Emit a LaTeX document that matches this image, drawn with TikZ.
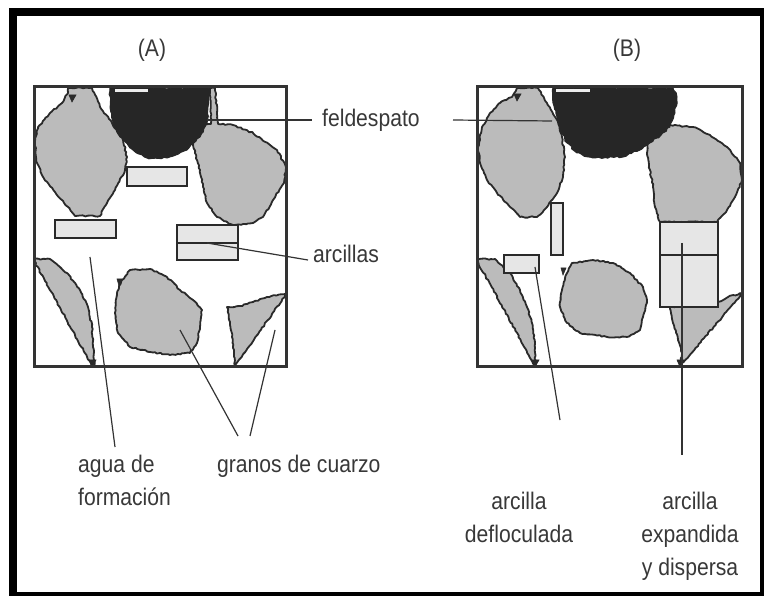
\documentclass[tikz,border=0pt]{standalone}
\usepackage{fontspec}
\setmainfont{Liberation Sans}[FakeStretch=0.88]
\usetikzlibrary{decorations.pathmorphing,calc}

\definecolor{graingray}{HTML}{BBBBBB}
\definecolor{feldgray}{HTML}{262626}
\definecolor{edgegray}{HTML}{2A2A2A}
\definecolor{claygray}{HTML}{E6E6E6}
\definecolor{inkgray}{HTML}{383838}
\definecolor{linegray}{HTML}{333333}

\tikzset{
  grain/.style={fill=graingray, draw=edgegray, line width=1.8pt, line join=round,
    decorate, decoration={random steps, segment length=2.5pt, amplitude=0.7pt}},
  feldspar/.style={fill=feldgray, draw=feldgray, line width=1pt, line join=round,
    decorate, decoration={random steps, segment length=3pt, amplitude=1pt}},
  clay/.style={fill=claygray, draw=edgegray, line width=1.3pt},
  cellbox/.style={draw=linegray, line width=3pt},
  leader/.style={draw=linegray, line width=1.2pt},
  notch/.style={fill=edgegray, draw=edgegray, line width=0.6pt},
  lbl/.style={text=inkgray, font=\fontsize{24}{33}\selectfont, inner sep=0pt},
  paneltitle/.style={text=inkgray, font=\fontsize{24}{26}\selectfont, inner sep=0pt},
}

\begin{document}
\pgfmathsetseed{7}
\begin{tikzpicture}[x=1pt, y=-1pt]
  \useasboundingbox (0,0) rectangle (764,596);

  % outer frame
  \fill[black] (9,8) rectangle (764,596);
  \fill[white] (17,16) rectangle (760,592);

  % ---------- panel A ----------
  \begin{scope}
    \clip (34,87) rectangle (286,367);
    % quartz grains
    \path[grain] (68,88) -- (92,88) -- (100,107) -- (112,123) -- (123,140) -- (127,157)
      -- (125,170) -- (115,190) -- (107,203) -- (100,216) -- (75,216) -- (68,207)
      -- (55,192) -- (43,177) -- (37,163) -- (35,143) -- (38,127) -- (50,113)
      -- (62,103) -- (68,93) -- cycle;
    \path[grain] (210,88) -- (215,88) -- (218,124) -- (233,125) -- (253,133) -- (277,150)
      -- (286,167) -- (284,183) -- (273,200) -- (263,217) -- (253,223) -- (233,225)
      -- (217,217) -- (207,203) -- (203,187) -- (200,170) -- (195,153) -- (192,140)
      -- (200,126) -- (211,124) -- cycle;
    \path[grain] (33,259) -- (50,259) -- (67,273) -- (80,290) -- (88,307) -- (92,327)
      -- (93,347) -- (95,366) -- (92,366) -- cycle;
    \path[grain] (130,270) -- (150,269) -- (167,277) -- (180,290) -- (193,300) -- (202,310)
      -- (200,327) -- (197,343) -- (190,353) -- (170,355) -- (150,352) -- (130,347)
      -- (118,333) -- (115,313) -- (117,293) -- (122,280) -- cycle;
    \path[grain] (227,307) -- (240,306) -- (253,302) -- (267,297) -- (287,293)
      -- (235,366) -- (234,350) -- (232,337) -- (230,322) -- cycle;
    % feldspar
    \path[feldspar] (110,88) -- (210,88) -- (208,107) -- (207,123) -- (200,137) -- (187,150)
      -- (167,158) -- (147,158) -- (130,148) -- (120,137) -- (113,123) -- (110,107) -- cycle;
    \fill[white!85!gray] (115,89) rectangle (148,92);
    % clays
    \path[clay] (127,167) rectangle (187,186);
    \path[clay] (55,220) rectangle (116,238);
    \path[clay] (177,225) rectangle (238,243);
    \path[clay] (177,243) rectangle (238,260);
    % small marks on grain edges
    \path[notch] (69,95) -- (76,95) -- (72,102) -- cycle;
    \path[notch] (117,279) -- (122,279) -- (119,286) -- cycle;
    \path[notch] (89,360) -- (96,360) -- (92,367) -- cycle;
  \end{scope}
  \path[cellbox] (34,87) rectangle (286,367);

  % ---------- panel B ----------
  \begin{scope}
    \clip (477,87) rectangle (742,367);
    % quartz grains
    \path[grain] (517,88) -- (538,88) -- (547,103) -- (557,120) -- (562,137) -- (565,157)
      -- (563,177) -- (557,193) -- (547,207) -- (537,217) -- (520,217) -- (510,207)
      -- (497,193) -- (487,180) -- (480,163) -- (478,147) -- (482,127) -- (490,113)
      -- (500,103) -- (512,97) -- cycle;
    \path[grain] (650,127) -- (670,125) -- (693,127) -- (710,135) -- (727,147) -- (740,163)
      -- (742,180) -- (735,197) -- (727,210) -- (717,222) -- (660,222) -- (655,207)
      -- (653,187) -- (650,170) -- (647,153) -- (647,140) -- cycle;
    \path[grain] (476,259) -- (495,259) -- (510,273) -- (520,290) -- (527,307) -- (532,323)
      -- (535,343) -- (535,366) -- cycle;
    \path[grain] (572,263) -- (593,260) -- (613,263) -- (630,273) -- (643,287) -- (647,300)
      -- (643,317) -- (640,330) -- (627,337) -- (607,337) -- (580,333) -- (567,323)
      -- (560,307) -- (562,290) -- (567,273) -- cycle;
    \path[grain] (670,307) -- (718,302) -- (728,297) -- (743,293) -- (680,366)
      -- (682,353) -- (678,340) -- (673,323) -- cycle;
    % feldspar
    \path[feldspar] (553,88) -- (673,88) -- (677,97) -- (675,113) -- (670,127) -- (657,138)
      -- (640,150) -- (623,157) -- (593,158) -- (577,153) -- (567,143) -- (560,130)
      -- (557,117) -- (553,103) -- cycle;
    \fill[white!85!gray] (556,89) rectangle (590,92);
    % clays
    \path[clay] (551,203) rectangle (563,255);
    \path[clay] (504,255) rectangle (539,273);
    \path[clay] (660,222) rectangle (718,255);
    \path[clay] (660,255) rectangle (718,307);
    % small marks on grain edges
    \path[notch] (514,94) -- (521,94) -- (517,101) -- cycle;
    \path[notch] (561,268) -- (566,268) -- (563,275) -- cycle;
    \path[notch] (532,360) -- (539,360) -- (535,367) -- cycle;
    \path[notch] (677,360) -- (684,360) -- (680,367) -- cycle;
  \end{scope}
  \path[cellbox] (477,87) rectangle (742,367);

  % ---------- titles and labels ----------
  \node[paneltitle] (titA) at (152,50) {(A)};
  \node[paneltitle] (titB) at (627,50) {(B)};

  \node[lbl, anchor=west] (feld) at (322,120) {feldespato};
  \node[lbl, anchor=west] (arcs) at (313,254) {arcillas};
  \node[lbl, anchor=north west, align=left] (agua) at (78,455) {agua de\\formación};
  \node[lbl, anchor=north west] (granos) at (217,455) {granos de cuarzo};
  \node[lbl, anchor=north, align=center] (deflo) at (519,492) {arcilla\\defloculada};
  \node[lbl, anchor=north, align=center] (expan) at (690,492) {arcilla\\expandida\\y dispersa};

  % leader end points
  \coordinate (feldA) at (207,120);
  \coordinate (feldB) at (552,121);
  \coordinate (clayA) at (207,243);
  \coordinate (poreA) at (90,257);
  \coordinate (grainC) at (180,330);
  \coordinate (grainR) at (275,330);
  \coordinate (clayD) at (535,267);
  \coordinate (clayE) at (682,243);
  \coordinate (aguaTip) at (115,447);
  \coordinate (granTipA) at (238,436);
  \coordinate (granTipB) at (250,436);
  \coordinate (defloTip) at (560,420);
  \coordinate (expanTip) at (682,455);

  % leaders
  \draw[leader] (feldA) -- (feld.west -| 312,0);
  \draw[leader] (feld.east -| 453,0) -- (feldB);
  \draw[leader] (clayA) -- ($(arcs.west)+(-5,6)$);
  \draw[leader] (poreA) -- (aguaTip);
  \draw[leader] (grainC) -- (granTipA);
  \draw[leader] (grainR) -- (granTipB);
  \draw[leader] (clayD) -- (defloTip);
  \draw[leader] (clayE) -- (expanTip);
\end{tikzpicture}
\end{document}
